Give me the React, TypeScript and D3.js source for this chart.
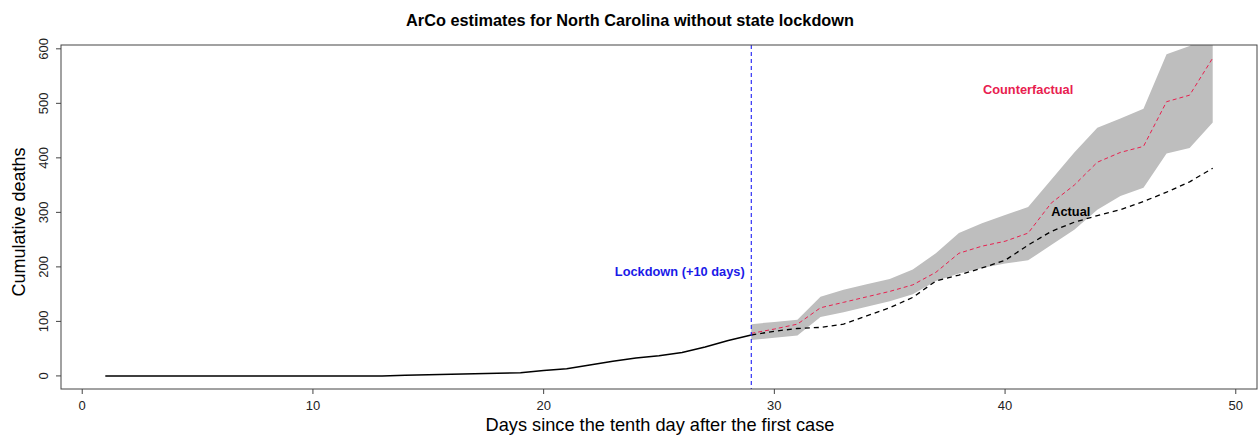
import React from "react";
import * as d3 from "d3";

const days: number[] = d3.range(1, 50);
const actual: number[] = [
  0, 0, 0, 0, 0, 0, 0, 0, 0, 0, 0, 0, 0, 1, 2, 3, 4, 5, 6, 10,
  13, 20, 27, 33, 37, 43, 53, 65, 75, 82, 87, 89, 95, 110, 125, 144, 174, 185, 198, 212,
  240, 265, 282, 294, 305, 320, 337, 356, 381,
];
const cfDays: number[] = d3.range(29, 50);
const counterfactual: number[] = [
  78, 86, 95, 125, 135, 145, 155, 167, 190, 225, 238, 247, 262, 317, 350, 392, 410, 421, 503, 515, 583,
];
const upperBand: number[] = [
  95, 99, 103, 145, 158, 168, 178, 195, 225, 262, 280, 295, 310, 360, 410, 455, 472, 490, 590, 605, 640,
];
const lowerBand: number[] = [
  66, 70, 74, 108, 117, 127, 137, 150, 174, 188, 198, 206, 212, 240, 268, 305, 330, 345, 408, 418, 465,
];
const xTicks: number[] = [0, 10, 20, 30, 40, 50];
const yTicks: number[] = [0, 100, 200, 300, 400, 500, 600];
const lockdownDay = 29;

const W = 1258;
const H = 438;
const L = 61, R = 1257, T = 45, B = 389;

export default function App() {
  const x = d3.scaleLinear().domain([-0.92, 50.92]).range([L, R]);
  const y = d3.scaleLinear().domain([-24, 607]).range([B, T]);

  const solidIdx = days.map((d, i) => i).filter((i) => days[i] <= lockdownDay);
  const dashIdx = days.map((d, i) => i).filter((i) => days[i] >= lockdownDay);

  const line = d3
    .line<number>()
    .x((i) => x(days[i]))
    .y((i) => y(actual[i]));
  const cfLine = d3
    .line<number>()
    .x((i) => x(cfDays[i]))
    .y((i) => y(counterfactual[i]));
  const band = d3
    .area<number>()
    .x((i) => x(cfDays[i]))
    .y0((i) => y(lowerBand[i]))
    .y1((i) => y(upperBand[i]));
  const cfIdx = cfDays.map((d, i) => i);

  const font = "'Liberation Sans', Arial, sans-serif";

  return (
    <svg
      width={W}
      height={H}
      style={{ position: "absolute", left: 0, top: 0, background: "#fff" }}
      fontFamily={font}
    >
      <defs>
        <clipPath id="plotclip">
          <rect x={L} y={T} width={R - L} height={B - T} />
        </clipPath>
      </defs>
      <rect x={0} y={0} width={W} height={H} fill="#fff" />
      <text x={630} y={26} textAnchor="middle" fontSize={16.3} fontWeight="bold" fill="#000">
        ArCo estimates for North Carolina without state lockdown
      </text>

      <g clipPath="url(#plotclip)">
        <path d={band(cfIdx) || ""} fill="#bebebe" stroke="none" />
        <path d={cfLine(cfIdx) || ""} fill="none" stroke="#e8204f" strokeWidth={1} strokeDasharray="4,3" />
        <path d={line(solidIdx) || ""} fill="none" stroke="#000" strokeWidth={1.5} />
        <path d={line(dashIdx) || ""} fill="none" stroke="#000" strokeWidth={1.3} strokeDasharray="5,4" />
        <line
          x1={x(lockdownDay)}
          x2={x(lockdownDay)}
          y1={T}
          y2={B}
          stroke="#1f1ff5"
          strokeWidth={1.1}
          strokeDasharray="4,3"
        />
      </g>

      <text x={x(25.9)} y={y(192) + 4.5} textAnchor="middle" fontSize={12.8} fontWeight="bold" fill="#1a1ae8">
        Lockdown (+10 days)
      </text>
      <text x={x(41)} y={y(525) + 4.5} textAnchor="middle" fontSize={12.8} fontWeight="bold" fill="#e8204f">
        Counterfactual
      </text>
      <text x={x(42.85)} y={y(302) + 4.5} textAnchor="middle" fontSize={12.8} fontWeight="bold" fill="#000">
        Actual
      </text>

      <rect x={L} y={T} width={R - L} height={B - T} fill="none" stroke="#444" strokeWidth={1} />

      {xTicks.map((t) => (
        <g key={"x" + t}>
          <line x1={x(t)} x2={x(t)} y1={B} y2={B + 5} stroke="#444" />
          <text x={x(t)} y={B + 21} textAnchor="middle" fontSize={13} fill="#222">
            {t}
          </text>
        </g>
      ))}
      {yTicks.map((t) => (
        <g key={"y" + t}>
          <line x1={L} x2={L - 5} y1={y(t)} y2={y(t)} stroke="#444" />
          <text
            transform={`translate(${L - 13},${y(t)}) rotate(-90)`}
            textAnchor="middle"
            fontSize={13}
            fill="#222"
          >
            {t}
          </text>
        </g>
      ))}

      <text x={660} y={431} textAnchor="middle" fontSize={18.2} fill="#000">
        Days since the tenth day after the first case
      </text>
      <text
        transform={`translate(25,${(T + B) / 2 + 5}) rotate(-90)`}
        textAnchor="middle"
        fontSize={18}
        fill="#000"
      >
        Cumulative deaths
      </text>
    </svg>
  );
}
